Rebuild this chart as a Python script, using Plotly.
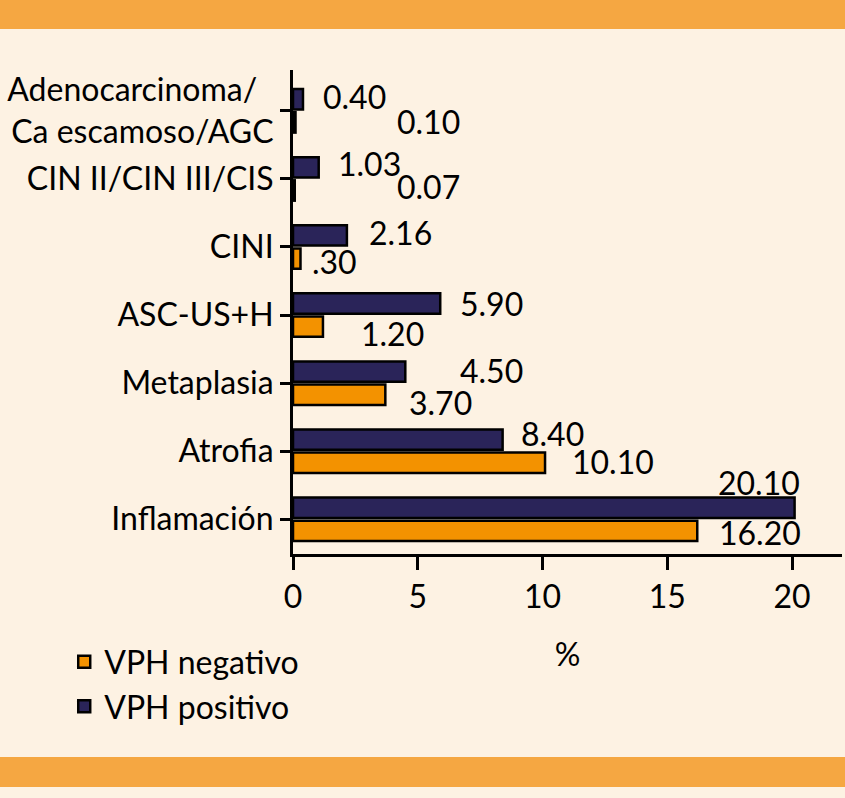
import plotly.graph_objects as go

# categorias de abajo hacia arriba
categorias = [
    "Inflamación",
    "Atrofia",
    "Metaplasia",
    "ASC-US+H",
    "CINI",
    "CIN II/CIN III/CIS",
    "Adenocarcinoma/\u00a0\u00a0<br>Ca escamoso/AGC",
]
vph_negativo = [16.20, 10.10, 3.70, 1.20, 0.30, 0.07, 0.10]
vph_positivo = [20.10, 8.40, 4.50, 5.90, 2.16, 1.03, 0.40]
etiquetas_neg = ["16.20", "10.10", "3.70", "1.20", ".30", "0.07", "0.10"]
etiquetas_pos = ["20.10", "8.40", "4.50", "5.90", "2.16", "1.03", "0.40"]
ticks_x = [0, 5, 10, 15, 20]

NARANJA = "#f39200"
AZUL = "#2a2459"
FONDO = "#fdf2e3"
BANDA = "#f5a742"
FUENTE = "Lato"

# desplazamientos (px) de las etiquetas respecto al final de cada barra
desp_neg = [(20, -13), (25, -10), (22, -19), (36, -18), (10, -15), (100, -8), (99, -11)]
desp_pos = [(-79, 37), (16, 18), (53, 13), (18, 12), (20, 14), (17, 15), (18, 14)]
# las dos barras mas pequenas se ven oscuras en el original
colores_neg = [NARANJA] * 5 + [AZUL] * 2

fig = go.Figure()
fig.add_trace(go.Bar(
    y=categorias, x=vph_negativo, orientation="h", name="VPH negativo",
    marker=dict(color=colores_neg, line=dict(color="black", width=2.5)),
))
fig.add_trace(go.Bar(
    y=categorias, x=vph_positivo, orientation="h", name="VPH positivo",
    marker=dict(color=AZUL, line=dict(color="black", width=2.5)),
))

anotaciones = []
for cat, v, txt, (dx, dy) in zip(categorias, vph_negativo, etiquetas_neg, desp_neg):
    anotaciones.append(dict(x=v, y=cat, text=txt, showarrow=False, xanchor="left",
                            xshift=dx, yshift=dy))
for cat, v, txt, (dx, dy) in zip(categorias, vph_positivo, etiquetas_pos, desp_pos):
    anotaciones.append(dict(x=v, y=cat, text=txt, showarrow=False, xanchor="left",
                            xshift=dx, yshift=dy))

fig.update_layout(
    width=845, height=798,
    margin=dict(l=292.5, r=3, t=70, b=244, autoexpand=False),
    paper_bgcolor=FONDO, plot_bgcolor=FONDO,
    font=dict(family=FUENTE, size=32, color="black"),
    barmode="group", bargap=0.32, bargroupgap=0.12,
    annotations=anotaciones,
    legend=dict(
        x=0.076, y=0.205, xref="container", yref="container",
        xanchor="left", yanchor="top", traceorder="normal",
        font=dict(size=32), bgcolor="rgba(0,0,0,0)",
    ),
    shapes=[
        dict(type="rect", xref="paper", yref="paper", x0=-0.6, x1=1.1,
             y0=1.0847, y1=1.1446, fillcolor=BANDA, line_width=0, layer="below"),
        dict(type="rect", xref="paper", yref="paper", x0=-0.6, x1=1.1,
             y0=-0.4814, y1=-0.4194, fillcolor=BANDA, line_width=0, layer="below"),
    ],
)
fig.update_xaxes(
    range=[0, 22], tickvals=ticks_x, showgrid=False, zeroline=False,
    showline=True, linecolor="black", linewidth=3,
    ticks="outside", ticklen=13, tickwidth=3, tickcolor="black",
    ticklabelstandoff=0,
    title=dict(text="%", standoff=30, font=dict(size=32)),
)
fig.update_yaxes(
    type="category", range=[-0.51, 6.6], showgrid=False, zeroline=False,
    showline=True, linecolor="black", linewidth=3,
    ticks="outside", ticklen=10, tickwidth=3, tickcolor="black",
    ticklabelstandoff=0,
)

# quitar el margen por defecto del body para que la figura quede en 0,0
fig.write_html("out.html", config={"displayModeBar": False},
               post_script="document.body.style.margin='0';")
